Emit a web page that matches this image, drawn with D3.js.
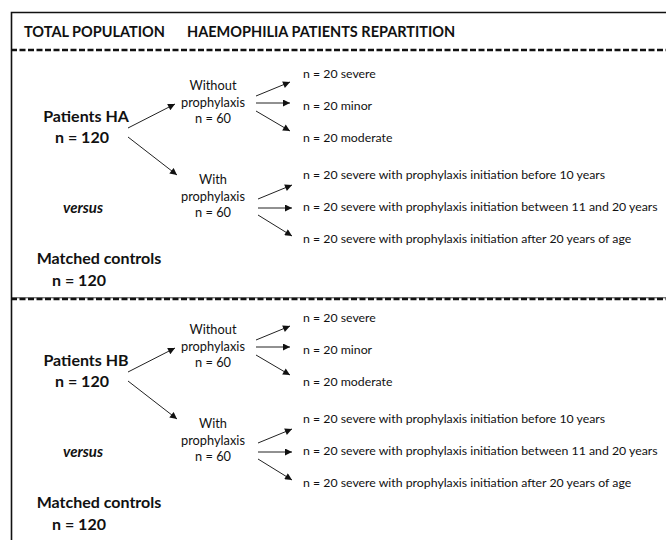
<!DOCTYPE html>
<html><head><meta charset="utf-8">
<script src="https://cdn.jsdelivr.net/npm/d3@7"></script>
<style>body{margin:0;background:#fff}svg{display:block}text{font-family:Lato,"Open Sans",sans-serif;fill:#111}</style>
</head><body>
<script>
// ---- data ----
const headers = ["TOTAL POPULATION", "HAEMOPHILIA PATIENTS REPARTITION"];
const sections = ["Patients HA", "Patients HB"];
const sectionN = [120, 120];
const controlsLabel = "Matched controls";
const controlsN = [120, 120];
const groups = ["Without\nprophylaxis", "With\nprophylaxis"];
const groupN = [60, 60];
const outcomesWithout = ["severe", "minor", "moderate"];
const outcomesWith = [
  "severe with prophylaxis initiation before 10 years",
  "severe with prophylaxis initiation between 11 and 20 years",
  "severe with prophylaxis initiation after 20 years of age"
];
const outcomeN = [20, 20, 20];

// ---- layout ----
const W = 666, H = 540;
const svg = d3.select("body").append("svg").attr("width", W).attr("height", H);
const defs = svg.append("defs");
defs.append("marker").attr("id","ah").attr("viewBox","0 0 10 10").attr("refX",10).attr("refY",5)
  .attr("markerWidth",9).attr("markerHeight",7).attr("markerUnits","userSpaceOnUse").attr("orient","auto")
  .append("path").attr("d","M0,0L10,5L0,10Z").attr("fill","#111");

// section vertical offset scale
const secY = d3.scaleLinear().domain([0,1]).range([0,244]);

// border
svg.append("path").attr("d",`M11.5,${H}V12.5H${W}`).attr("fill","none").attr("stroke","#111").attr("stroke-width",1.6);

// header
const hx = [24, 187];
svg.selectAll("text.hdr").data(headers).join("text").attr("class","hdr")
  .attr("x",(d,i)=>hx[i]).attr("y",32).attr("dy","0.35em")
  .attr("font-size",14.5).attr("font-weight",700).text(d=>d);

// dashed dividers
const divY = [50, 299];
divY.forEach((y,i)=>{
  if(i===1) svg.append("line").attr("x1",11).attr("x2",W).attr("y1",y-1.2).attr("y2",y-1.2).attr("stroke","#111").attr("stroke-width",0.8);
  svg.append("line").attr("x1",11).attr("x2",W).attr("y1",y).attr("y2",y)
    .attr("stroke","#111").attr("stroke-width",2.4).attr("stroke-dasharray","6,2.5");
});

// outcome row y positions within a section
const rowY = d3.scaleLinear().domain([0,2]).range([74,138]);
const rowY2 = d3.scaleLinear().domain([0,2]).range([175,239]);

function arrow(g,x1,y1,x2,y2){
  g.append("line").attr("x1",x1).attr("y1",y1).attr("x2",x2).attr("y2",y2)
   .attr("stroke","#222").attr("stroke-width",1).attr("marker-end","url(#ah)");
}

sections.forEach((s,si)=>{
  const g = svg.append("g").attr("transform",`translate(0,${secY(si)})`);
  // left labels
  g.append("text").attr("x",86).attr("y",116).attr("dy","0.35em").attr("text-anchor","middle")
    .attr("font-size",16).attr("font-weight",700).text(s);
  g.append("text").attr("x",82).attr("y",137).attr("dy","0.35em").attr("text-anchor","middle")
    .attr("font-size",16).attr("font-weight",700).text("n = " + sectionN[si]);
  g.append("text").attr("x",83).attr("y",208).attr("dy","0.35em").attr("text-anchor","middle")
    .attr("font-size",15).attr("font-weight",700).attr("font-style","italic").text("versus");
  g.append("text").attr("x",99).attr("y",258).attr("dy","0.35em").attr("text-anchor","middle")
    .attr("font-size",16).attr("font-weight",700).text(controlsLabel);
  g.append("text").attr("x",79).attr("y",280).attr("dy","0.35em").attr("text-anchor","middle")
    .attr("font-size",16).attr("font-weight",700).text("n = " + controlsN[si]);

  // arrows from patients to groups
  arrow(g,128,128,175,104);
  arrow(g,128,137,177,175);

  // group labels
  const gy = [86, 180];
  groups.forEach((gr,gi)=>{
    const lines = gr.split("\n").concat(["n = " + groupN[gi]]);
    g.selectAll(null).data(lines).join("text").attr("x",213).attr("y",(d,li)=>gy[gi]+li*16.3)
      .attr("dy","0.35em").attr("text-anchor","middle").attr("font-size",12.8).text(d=>d);
  });

  // outcome arrows
  const startsW = [96,103,111], endsW = [82,103,131];
  startsW.forEach((y,i)=>arrow(g,256,y,290,endsW[i]));
  const startsP = [199,208,215], endsP = [185,208,236];
  startsP.forEach((y,i)=>arrow(g,258,y,292,endsP[i]));

  // outcome texts
  g.selectAll(null).data(outcomesWithout).join("text").attr("x",303).attr("y",(d,i)=>rowY(i))
    .attr("dy","0.35em").attr("font-size",12.3).text((d,i)=>`n = ${outcomeN[i]} ${d}`);
  g.selectAll(null).data(outcomesWith).join("text").attr("x",303).attr("y",(d,i)=>rowY2(i))
    .attr("dy","0.35em").attr("font-size",12.3).text((d,i)=>`n = ${outcomeN[i]} ${d}`);
});
</script>
</body></html>
